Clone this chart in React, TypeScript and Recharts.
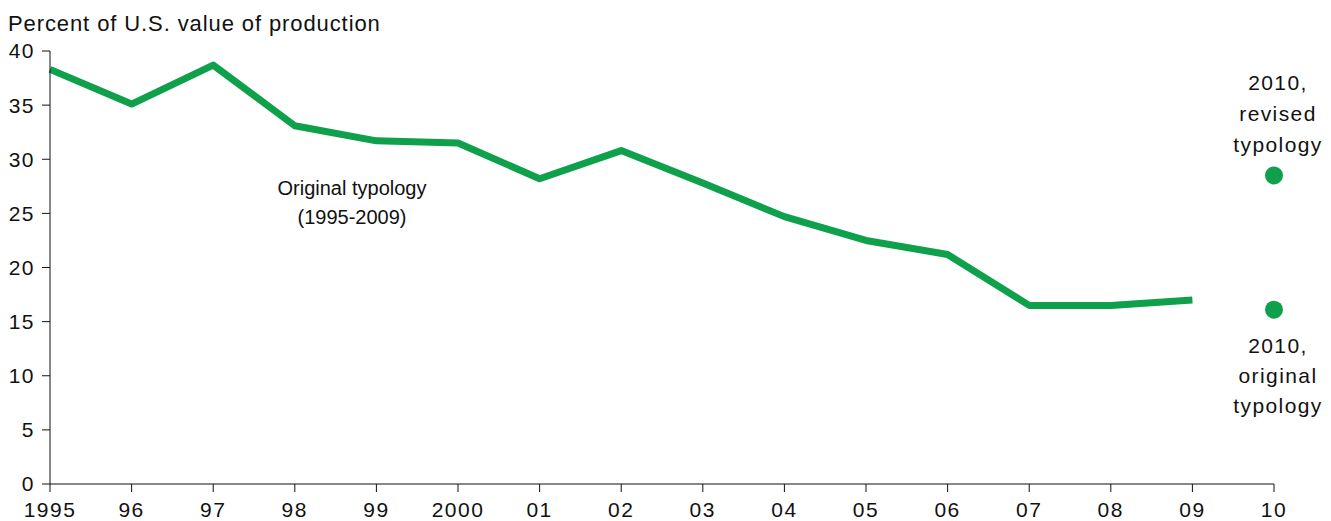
import React from "react";
import { ComposedChart, Line, XAxis, YAxis } from "recharts";

const years = ["1995", "96", "97", "98", "99", "2000", "01", "02", "03", "04", "05", "06", "07", "08", "09", "10"];
const originalSeries = [38.3, 35.1, 38.7, 33.1, 31.7, 31.5, 28.2, 30.8, 27.8, 24.7, 22.5, 21.2, 16.5, 16.5, 17.0, null];
const revised2010 = [null, null, null, null, null, null, null, null, null, null, null, null, null, null, null, 28.5];
const original2010 = [null, null, null, null, null, null, null, null, null, null, null, null, null, null, null, 16.1];
const yTicks = [0, 5, 10, 15, 20, 25, 30, 35, 40];

const data = years.map((y, i) => ({
  year: y,
  value: originalSeries[i],
  revised: revised2010[i],
  orig: original2010[i],
}));

const GREEN = "#0ea04b";
const FONT = "'Liberation Sans', Arial, Helvetica, sans-serif";

const textStyle: React.CSSProperties = {
  position: "absolute",
  fontFamily: FONT,
  fontSize: 21,
  color: "#111",
  textAlign: "center",
  lineHeight: "30px",
  whiteSpace: "nowrap",
};

const tickStyle = { fill: "#111", fontSize: 21, fontFamily: FONT, letterSpacing: 1.5 };

export default function App() {
  return (
    <div style={{ position: "absolute", left: 0, top: 0, width: 1331, height: 521, background: "#fff" }}>
      <div style={{ ...textStyle, left: 8, top: 9, textAlign: "left", fontSize: 22, letterSpacing: 0.9 }}>
        Percent of U.S. value of production
      </div>
      <ComposedChart
        width={1331}
        height={521}
        data={data}
        margin={{ top: 51, right: 57, bottom: 0, left: 0 }}
      >
        <XAxis
          dataKey="year"
          interval={0}
          height={37}
          tickSize={8}
          tickMargin={10}
          tickLine={{ stroke: "#111" }}
          axisLine={{ stroke: "#111" }}
          tick={tickStyle}
          padding={{ left: 0, right: 0 }}
        />
        <YAxis
          domain={[0, 40]}
          ticks={yTicks}
          width={50}
          tickSize={8}
          tickMargin={7}
          interval={0}
          tickLine={{ stroke: "#111" }}
          axisLine={{ stroke: "#111" }}
          tick={tickStyle}
        />
        <Line
          dataKey="value"
          stroke={GREEN}
          strokeWidth={7}
          dot={false}
          activeDot={false}
          strokeLinejoin="round"
          strokeLinecap="butt"
          isAnimationActive={false}
          connectNulls={false}
        />
        <Line
          dataKey="revised"
          stroke="none"
          dot={{ r: 9, fill: GREEN, stroke: "none" }}
          activeDot={false}
          isAnimationActive={false}
        />
        <Line
          dataKey="orig"
          stroke="none"
          dot={{ r: 9, fill: GREEN, stroke: "none" }}
          activeDot={false}
          isAnimationActive={false}
        />
      </ComposedChart>
      <div style={{ ...textStyle, fontSize: 20, left: 352, top: 174, transform: "translateX(-50%)", lineHeight: "29px" }}>
        Original typology
        <br />
        (1995-2009)
      </div>
      <div style={{ ...textStyle, letterSpacing: 1.4, lineHeight: "31px", left: 1278, top: 67, transform: "translateX(-50%)" }}>
        2010,
        <br />
        revised
        <br />
        typology
      </div>
      <div style={{ ...textStyle, letterSpacing: 1.4, lineHeight: "30px", left: 1278, top: 331, transform: "translateX(-50%)" }}>
        2010,
        <br />
        original
        <br />
        typology
      </div>
    </div>
  );
}
